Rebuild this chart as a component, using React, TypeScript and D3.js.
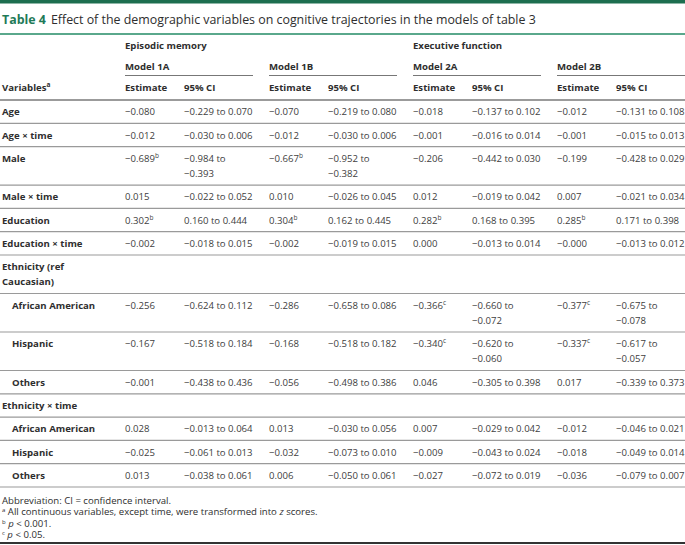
import React from 'react';
import * as d3 from 'd3';

// Table content
const titleLabel = 'Table 4';
const titleText = 'Effect of the demographic variables on cognitive trajectories in the models of table 3';
const outcomes = ['Episodic memory', 'Executive function'];
const models = ['Model 1A', 'Model 1B', 'Model 2A', 'Model 2B'];
const subHeads = ['Estimate', '95% CI'];

// row kinds: 'v' = variable row, 'h' = heading only, 's' = indented sub-row
const varLabels = [
  ['Age'], ['Age × time'], ['Male'], ['Male × time'], ['Education'], ['Education × time'],
  ['Ethnicity (ref', 'Caucasian)'], ['African American'], ['Hispanic'], ['Others'],
  ['Ethnicity × time'], ['African American'], ['Hispanic'], ['Others'],
];
const rowKinds = ['v', 'v', 'v', 'v', 'v', 'v', 'h', 's', 's', 's', 'h', 's', 's', 's'];

const est1A = ['−0.080', '−0.012', '−0.689', '0.015', '0.302', '−0.002', '', '−0.256', '−0.167', '−0.001', '', '0.028', '−0.025', '0.013'];
const ci1A = ['−0.229 to 0.070', '−0.030 to 0.006', '−0.984 to −0.393', '−0.022 to 0.052', '0.160 to 0.444', '−0.018 to 0.015', '', '−0.624 to 0.112', '−0.518 to 0.184', '−0.438 to 0.436', '', '−0.013 to 0.064', '−0.061 to 0.013', '−0.038 to 0.061'];
const est1B = ['−0.070', '−0.012', '−0.667', '0.010', '0.304', '−0.002', '', '−0.286', '−0.168', '−0.056', '', '0.013', '−0.032', '0.006'];
const ci1B = ['−0.219 to 0.080', '−0.030 to 0.006', '−0.952 to −0.382', '−0.026 to 0.045', '0.162 to 0.445', '−0.019 to 0.015', '', '−0.658 to 0.086', '−0.518 to 0.182', '−0.498 to 0.386', '', '−0.030 to 0.056', '−0.073 to 0.010', '−0.050 to 0.061'];
const est2A = ['−0.018', '−0.001', '−0.206', '0.012', '0.282', '0.000', '', '−0.366', '−0.340', '0.046', '', '0.007', '−0.009', '−0.027'];
const ci2A = ['−0.137 to 0.102', '−0.016 to 0.014', '−0.442 to 0.030', '−0.019 to 0.042', '0.168 to 0.395', '−0.013 to 0.014', '', '−0.660 to −0.072', '−0.620 to −0.060', '−0.305 to 0.398', '', '−0.029 to 0.042', '−0.043 to 0.024', '−0.072 to 0.019'];
const est2B = ['−0.012', '−0.001', '−0.199', '0.007', '0.285', '−0.000', '', '−0.377', '−0.337', '0.017', '', '−0.012', '−0.018', '−0.036'];
const ci2B = ['−0.131 to 0.108', '−0.015 to 0.013', '−0.428 to 0.029', '−0.021 to 0.034', '0.171 to 0.398', '−0.013 to 0.012', '', '−0.675 to −0.078', '−0.617 to −0.057', '−0.339 to 0.373', '', '−0.046 to 0.021', '−0.049 to 0.014', '−0.079 to 0.007'];
// significance marks per estimate
const sig1A = ['', '', 'b', '', 'b', '', '', '', '', '', '', '', '', ''];
const sig1B = ['', '', 'b', '', 'b', '', '', '', '', '', '', '', '', ''];
const sig2A = ['', '', '', '', 'b', '', '', 'c', 'c', '', '', '', '', ''];
const sig2B = ['', '', '', '', 'b', '', '', 'c', 'c', '', '', '', '', ''];

const W = 685, H = 545;
const GREEN = '#1d6e4f';
const TEXT = '#2e2e2e';
const CELL = '#404040';
const RULE = '#9a9a9a';
const FONT = '"Open Sans", "Noto Sans", sans-serif';
const FS = 9.6;

const estimates = [est1A, est1B, est2A, est2B];
const cis = [ci1A, ci1B, ci2A, ci2B];
const sigs = [sig1A, sig1B, sig2A, sig2B];

const splitCI = (s: string) => (s.length > 15 ? [s.slice(0, s.indexOf(' to') + 3), s.slice(s.indexOf(' to') + 4)] : [s]);

export default function App() {
  const bodyTop = 100;
  const lineGap = 15.2;
  const nLines = varLabels.map((lab, i) =>
    Math.max(lab.length, ...cis.map((c) => splitCI(c[i]).length)));
  const heights = nLines.map((n) => 23.3 + (n - 1) * lineGap);
  const tops = [bodyTop, ...Array.from(d3.cumsum(heights)).map((v) => bodyTop + v)];
  const noteTop = 487;

  const x = d3.scaleBand<string>().domain(models).range([125, 125 + 4 * 144]);
  const ciOffset = 59;

  const baseline = (top: number, k: number) => top + 15.2 + k * lineGap;

  return (
    <svg width={W} height={H} style={{ position: 'absolute', left: 0, top: 0, background: '#fff' }} fontFamily={FONT}>
      <rect x={0} y={0} width={W} height={3.5} fill={GREEN} />
      <text x={2} y={23.5} fontSize={12.4} fill={TEXT}>
        <tspan fontWeight={700} fill="#1f7a58">{titleLabel}</tspan>
        <tspan dx={5}>{titleText}</tspan>
      </text>
      <rect x={0} y={33} width={W} height={2} fill="#5aa88c" />

      {/* outcome headers */}
      {outcomes.map((o, i) => (
        <text key={o} x={x(models[i * 2])} y={48.5} fontSize={FS} fontWeight={700} fill={TEXT}>{o}</text>
      ))}
      {models.map((m) => (
        <g key={m}>
          <text x={x(m)} y={69.5} fontSize={FS} fontWeight={700} fill={TEXT}>{m}</text>
          <line x1={x(m)} x2={(x(m) as number) + 128} y1={75.5} y2={75.5} stroke="#777" strokeWidth={1.2} />
          {subHeads.map((s, k) => (
            <text key={s} x={(x(m) as number) + k * ciOffset} y={90.5} fontSize={FS} fontWeight={700} fill={TEXT}>{s}</text>
          ))}
        </g>
      ))}
      <text x={2} y={90.5} fontSize={FS} fontWeight={700} fill={TEXT}>
        Variables<tspan fontSize={6.5} dy={-4}>a</tspan>
      </text>
      <line x1={0} x2={W} y1={bodyTop} y2={bodyTop} stroke="#7a7a7a" strokeWidth={1.6} />

      {/* body rows */}
      {varLabels.map((lab, i) => (
        <g key={i}>
          {lab.map((t, k) => (
            <text key={k} x={rowKinds[i] === 's' ? 12 : 2} y={baseline(tops[i], k)} fontSize={FS} fontWeight={700} fill={TEXT}>{t}</text>
          ))}
          {models.map((m, j) => (
            <g key={m}>
              <text x={x(m)} y={baseline(tops[i], 0)} fontSize={FS} fill={CELL}>
                {estimates[j][i]}
                {sigs[j][i] && <tspan fontSize={6.5} dy={-4}>{sigs[j][i]}</tspan>}
              </text>
              {splitCI(cis[j][i]).map((t, k) => (
                <text key={k} x={(x(m) as number) + ciOffset} y={baseline(tops[i], k)} fontSize={FS} fill={CELL}>{t}</text>
              ))}
            </g>
          ))}
          <line x1={0} x2={W} y1={tops[i + 1]} y2={tops[i + 1]} stroke={RULE} strokeWidth={1.2} />
        </g>
      ))}

      {/* footnotes */}
      <g fontSize={9.6} fill={TEXT}>
        <text x={2} y={noteTop + 16.5}>Abbreviation: CI = confidence interval.</text>
        <text x={2} y={noteTop + 28}>
          <tspan fontSize={6} dy={-3}>a</tspan><tspan dy={3}> All continuous variables, except time, were transformed into </tspan>
          <tspan fontStyle="italic">z</tspan> scores.
        </text>
        <text x={2} y={noteTop + 39.5}>
          <tspan fontSize={6} dy={-3}>b</tspan><tspan dy={3} fontStyle="italic"> p</tspan> {'< 0.001.'}
        </text>
        <text x={2} y={noteTop + 51}>
          <tspan fontSize={6} dy={-3}>c</tspan><tspan dy={3} fontStyle="italic"> p</tspan> {'< 0.05.'}
        </text>
      </g>
      <rect x={0} y={H - 3} width={W} height={2} fill="#333" />
    </svg>
  );
}
